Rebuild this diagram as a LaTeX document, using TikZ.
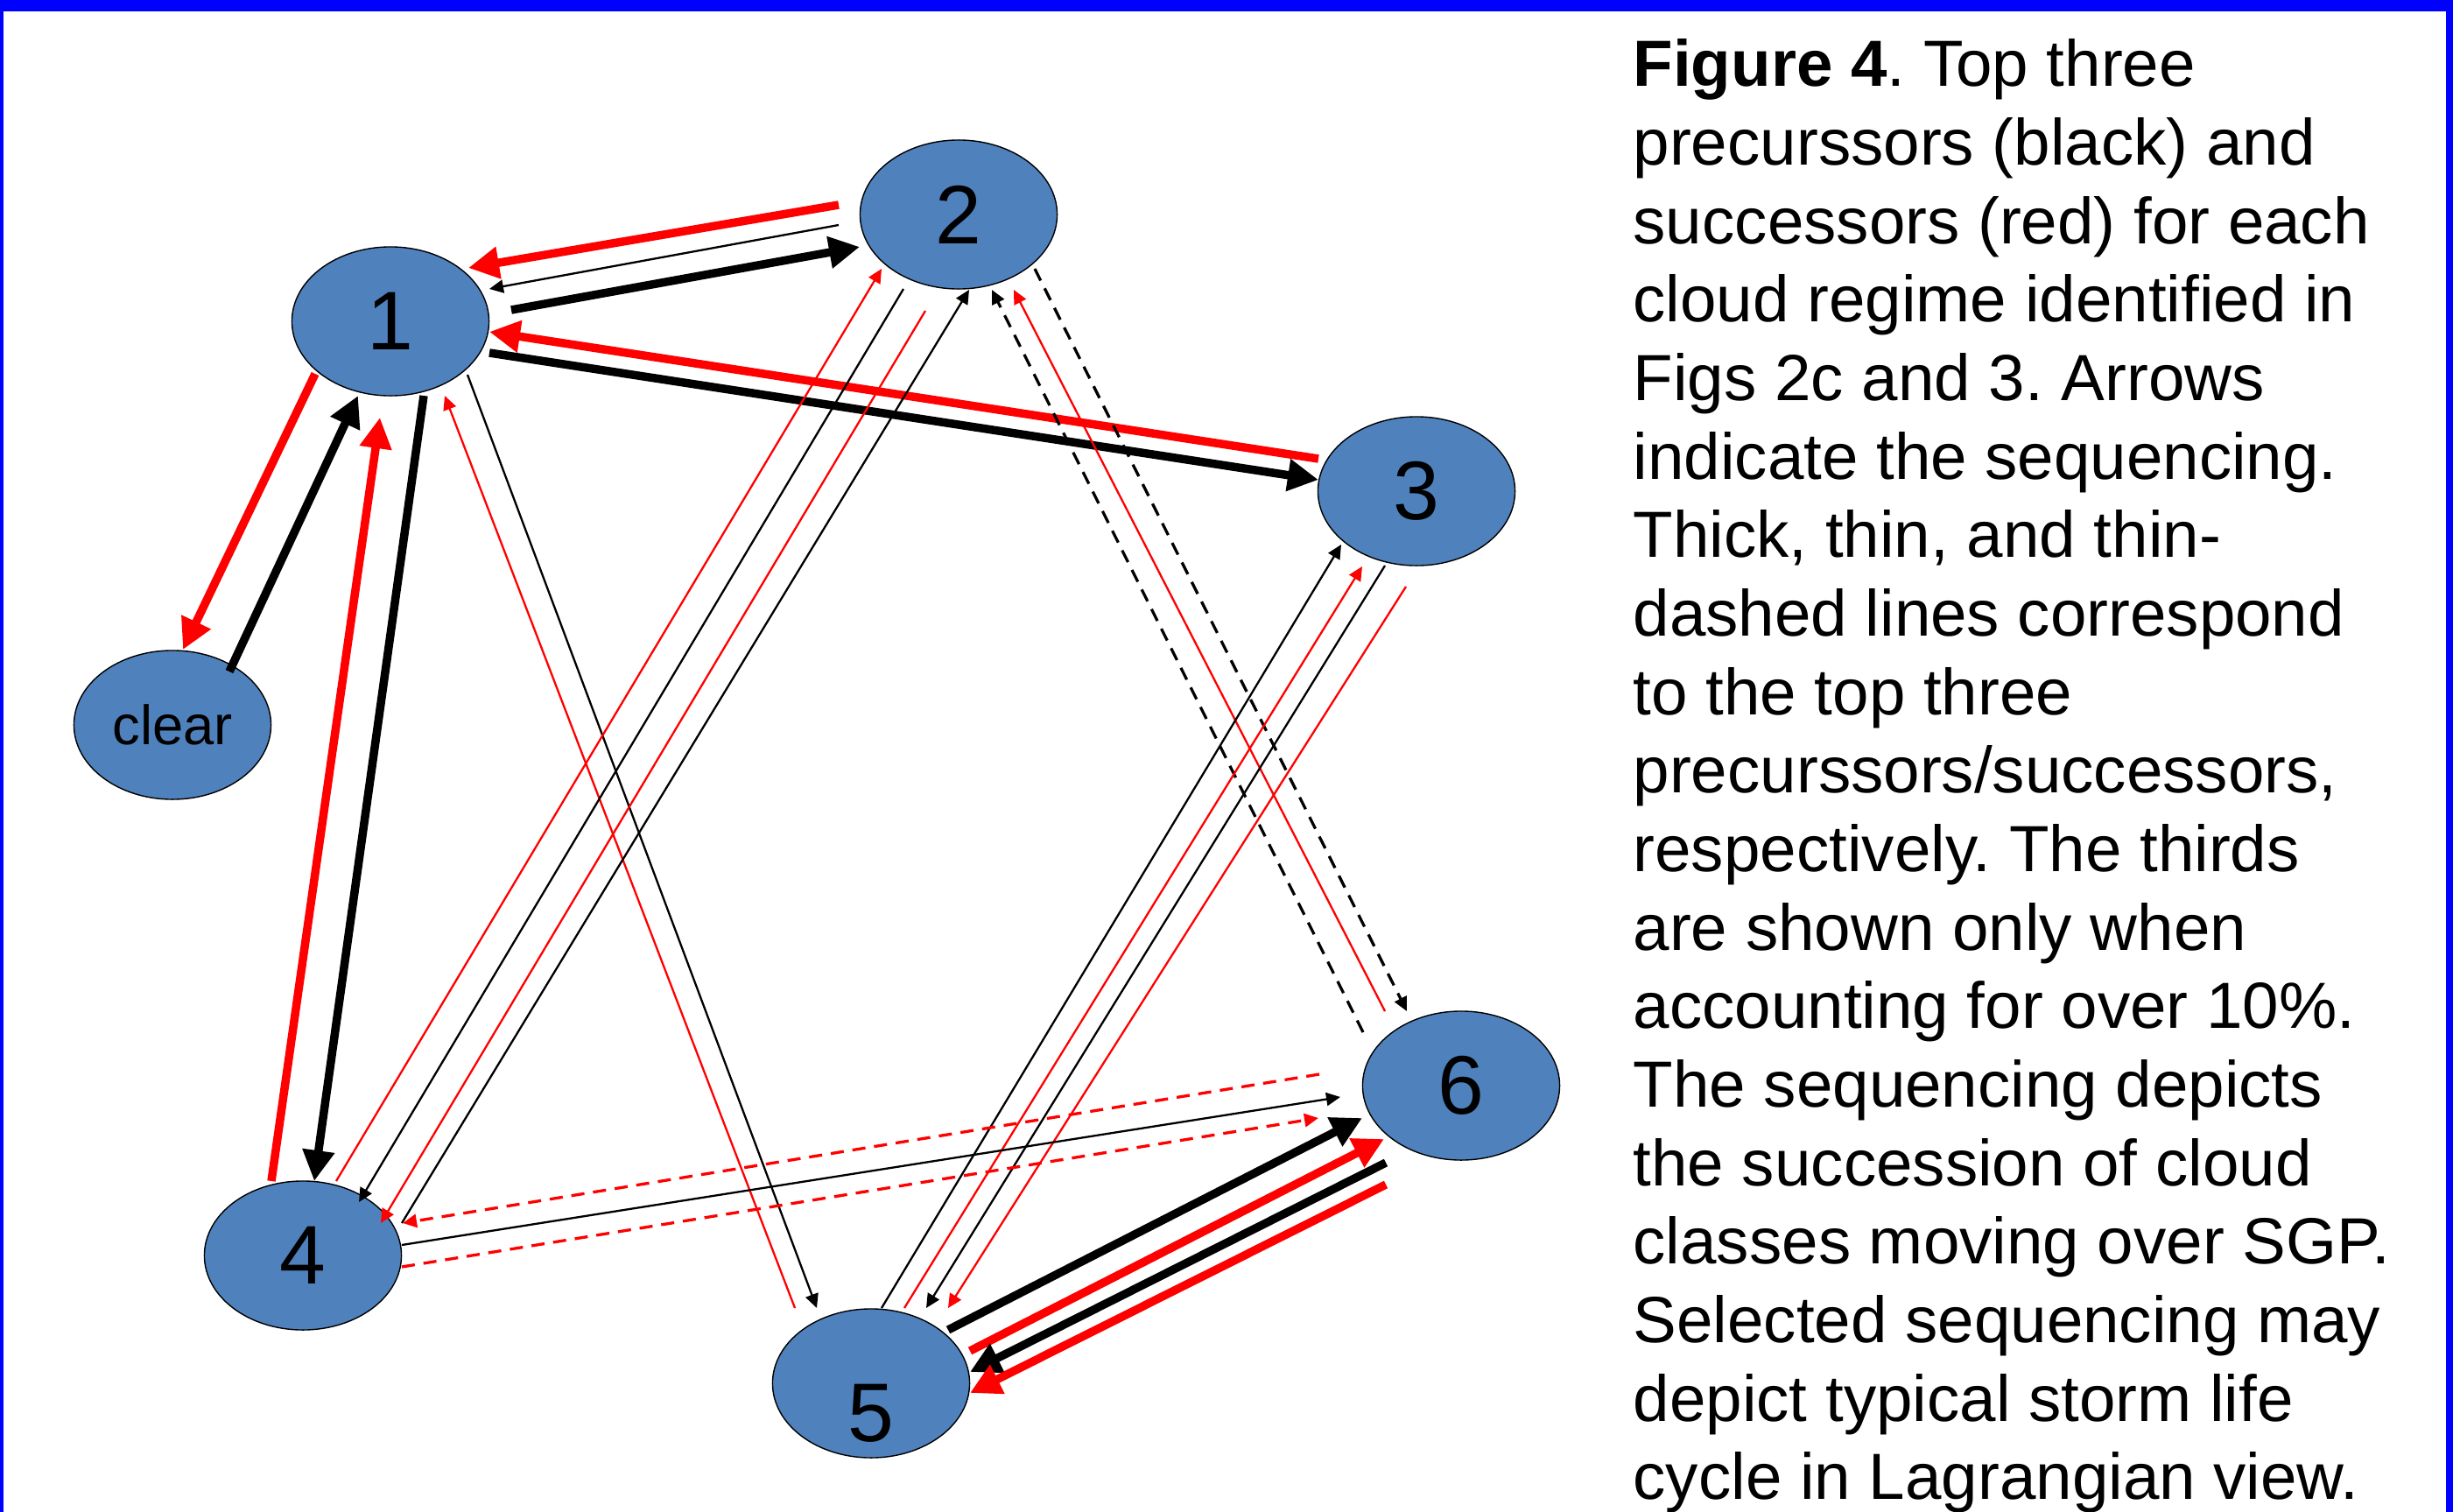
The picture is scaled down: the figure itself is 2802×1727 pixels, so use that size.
\documentclass[tikz,border=0pt]{standalone}
\usepackage{fontspec}
\setmainfont{Liberation Sans}
\usetikzlibrary{arrows.meta,shapes.geometric}

\definecolor{regblue}{RGB}{79,129,189}
\definecolor{frameblue}{RGB}{0,0,255}
\definecolor{succred}{RGB}{255,0,0}

\tikzset{
  regime/.style={ellipse, draw=black, line width=0.4pt, fill=regblue,
    minimum width=2.25cm, minimum height=1.7cm, inner sep=0pt,
    font=\fontsize{27}{30}\selectfont},
  thk/.style={line width=0.95mm, -{Triangle[length=3.5mm,width=3.5mm]}},
  thn/.style={line width=0.23mm, -{Triangle[length=1.6mm,width=1.5mm]}},
  dsh/.style={line width=0.33mm, dash pattern=on 1.5mm off 1mm,
    -{Triangle[length=1.6mm,width=1.5mm]}},
}

\begin{document}
\frenchspacing
\begin{tikzpicture}[x=0.01cm, y=-0.01cm]
    % frame
    \fill[white] (0,0) rectangle (2802,1727);
    \fill[frameblue] (0,0) rectangle (2802,13);
    \fill[frameblue] (0,0) rectangle (4,1727);
    \fill[frameblue] (2794,0) rectangle (2802,1727);
    \useasboundingbox (0,0) rectangle (2802,1727);

    % cloud regimes
    \node[regime] (n1) at (446,367) {1};
    \node[regime] (n2) at (1095,245) {2};
    \node[regime] (n3) at (1618,561) {3};
    \node[regime, font=\fontsize{18}{20}\selectfont] (clr) at (197,828) {clear};
    \node[regime] (n4) at (346,1434) {4};
    \node[regime] (n5) at (995,1580) {\raisebox{-0.66cm}[0pt][0pt]{5}};
    \node[regime] (n6) at (1669,1240) {6};

    % 1 <-> 2
    \draw[thk, succred] ([shift={(-137,-11)}]n2.center) -- ([shift={(89,-61)}]n1.center);
    \draw[thn] ([shift={(-137,12)}]n2.center) -- ([shift={(113,-37)}]n1.center);
    \draw[thk] ([shift={(138,-13)}]n1.center) -- ([shift={(-113,37)}]n2.center);

    % 1 <-> 3
    \draw[thk, succred] ([shift={(-112,-37)}]n3.center) -- ([shift={(113,12)}]n1.center);
    \draw[thk] ([shift={(113,36)}]n1.center) -- ([shift={(-112,-13)}]n3.center);

    % 1 <-> clear
    \draw[thk, succred] ([shift={(-86,60)}]n1.center) -- ([shift={(12,-86)}]clr.center);
    \draw[thk] ([shift={(65,-61)}]clr.center) -- ([shift={(-37,85)}]n1.center);

    % 1 <-> 4
    \draw[thk, succred] ([shift={(-36,-85)}]n4.center) -- ([shift={(-12,110)}]n1.center);
    \draw[thk] ([shift={(38,85)}]n1.center) -- ([shift={(13,-85)}]n4.center);

    % 1 <-> 5
    \draw[thn, succred] ([shift={(-87,-86)}]n5.center) -- ([shift={(62,85)}]n1.center);
    \draw[thn] ([shift={(88,61)}]n1.center) -- ([shift={(-62,-86)}]n5.center);

    % 2 <-> 4
    \draw[thn, succred] ([shift={(38,-85)}]n4.center) -- ([shift={(-88,62)}]n2.center);
    \draw[thn] ([shift={(-63,85)}]n2.center) -- ([shift={(64,-61)}]n4.center);
    \draw[thn, succred] ([shift={(-38,110)}]n2.center) -- ([shift={(89,-37)}]n4.center);
    \draw[thn] ([shift={(113,-37)}]n4.center) -- ([shift={(12,86)}]n2.center);

    % 2 <-> 6
    \draw[dsh] ([shift={(-112,-61)}]n6.center) -- ([shift={(38,86)}]n2.center);
    \draw[thn, succred] ([shift={(-87,-85)}]n6.center) -- ([shift={(63,86)}]n2.center);
    \draw[dsh] ([shift={(87,62)}]n2.center) -- ([shift={(-62,-85)}]n6.center);

    % 3 <-> 5
    \draw[thn] ([shift={(12,-86)}]n5.center) -- ([shift={(-86,61)}]n3.center);
    \draw[thn, succred] ([shift={(38,-86)}]n5.center) -- ([shift={(-62,86)}]n3.center);
    \draw[thn] ([shift={(-36,85)}]n3.center) -- ([shift={(63,-86)}]n5.center);
    \draw[thn, succred] ([shift={(-12,109)}]n3.center) -- ([shift={(88,-86)}]n5.center);

    % 4 <-> 6
    \draw[dsh, succred] ([shift={(-162,-13)}]n6.center) -- ([shift={(114,-37)}]n4.center);
    \draw[thn] ([shift={(113,-12)}]n4.center) -- ([shift={(-138,13)}]n6.center);
    \draw[dsh, succred] ([shift={(113,13)}]n4.center) -- ([shift={(-163,37)}]n6.center);

    % 5 <-> 6
    \draw[thk] ([shift={(88,-61)}]n5.center) -- ([shift={(-113,37)}]n6.center);
    \draw[thk, succred] ([shift={(113,-37)}]n5.center) -- ([shift={(-88,61)}]n6.center);
    \draw[thk] ([shift={(-86,88)}]n6.center) -- ([shift={(113,-13)}]n5.center);
    \draw[thk, succred] ([shift={(-86,113)}]n6.center) -- ([shift={(113,11)}]n5.center);

    % caption
    \node[anchor=north west, inner sep=0pt, align=left,
      font=\fontsize{21.2}{25.5}\selectfont] (caption) at (1865,44)
      {\textbf{Figure 4}. Top three\\
       precurssors (black) and\\
       successors (red) for each\\
       cloud regime identified in\\
       Figs 2c and 3. Arrows\\
       indicate the sequencing.\\
       Thick, thin, and thin-\\
       dashed lines correspond\\
       to the top three\\
       precurssors/successors,\\
       respectively. The thirds\\
       are shown only when\\
       accounting for over 10\%.\\
       The sequencing depicts\\
       the succession of cloud\\
       classes moving over SGP.\\
       Selected sequencing may\\
       depict typical storm life\\
       cycle in Lagrangian view.};
\end{tikzpicture}
\end{document}
